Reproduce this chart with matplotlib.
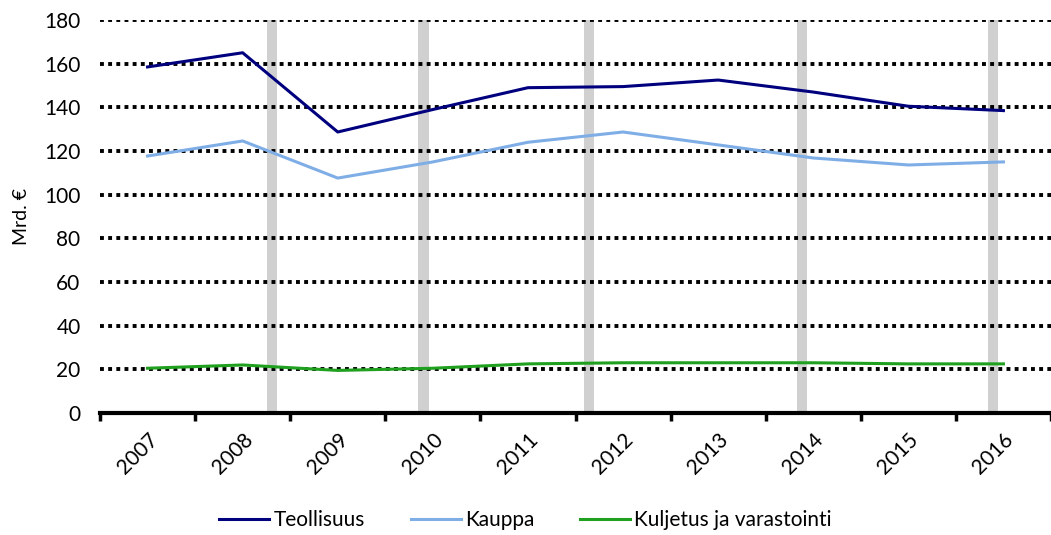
import numpy as np
import matplotlib
matplotlib.use('Agg')
from matplotlib import pyplot as plt

plt.rcParams['font.family'] = ['Lato', 'DejaVu Sans']

years = ['2007', '2008', '2009', '2010', '2011', '2012', '2013', '2014', '2015', '2016']
teollisuus = [158.5, 165, 128.7, 139, 149, 149.5, 152.5, 147, 140.5, 138.5]
kauppa = [117.7, 124.6, 107.6, 115, 124, 128.7, 122.8, 116.8, 113.6, 115]
kuljetus = [20.5, 22, 19.5, 20.5, 22.5, 23, 23, 23, 22.5, 22.5]
# grey vertical markers (position on the category axis)
markers = [1.31, 2.90, 4.64, 6.88, 8.89]

fig = plt.figure(figsize=(10.51, 5.35), dpi=100)
ax = fig.add_axes([100/1051, 1 - 413/535, 951/1051, 393/535])

x = np.arange(len(years))
ax.bar(markers, [180]*len(markers), width=0.11, color='#d0d0d0', zorder=1)
for v in range(20, 181, 20):
    ax.axhline(v, color='black', lw=2.8, ls=(0, (1, 1.1)), zorder=2)

ax.plot(x, teollisuus, color='#00007f', lw=2.2, label='Teollisuus', zorder=3)
ax.plot(x, kauppa, color='#7faee6', lw=2.2, label='Kauppa', zorder=3)
ax.plot(x, kuljetus, color='#1fa01f', lw=2.2, label='Kuljetus ja varastointi', zorder=3)

ax.set_xlim(-0.5, 9.5)
ax.set_ylim(0, 180)
ax.set_yticks(range(0, 181, 20))
ax.set_xticks(x)
ax.set_xticklabels(years, rotation=45, fontsize=15, ha='right', rotation_mode='anchor')
ax.set_xticks(np.arange(-0.5, 10, 1), minor=True)
ax.tick_params(axis='x', which='major', length=0, pad=12)
ax.tick_params(axis='x', which='minor', length=6, width=2.5, direction='out')
ax.tick_params(axis='y', length=0, labelsize=15, pad=14)
for s in ['top', 'right', 'left']:
    ax.spines[s].set_visible(False)
ax.spines['bottom'].set_linewidth(3)
ax.set_ylabel('Mrd. €', fontsize=14, labelpad=10)

fig.legend(loc='center', bbox_to_anchor=(0.5, 1 - 520/535), ncol=3, frameon=False,
           fontsize=15, handlelength=2.4, handletextpad=0.2, columnspacing=2.2)

fig.savefig('out.png', dpi=100)
